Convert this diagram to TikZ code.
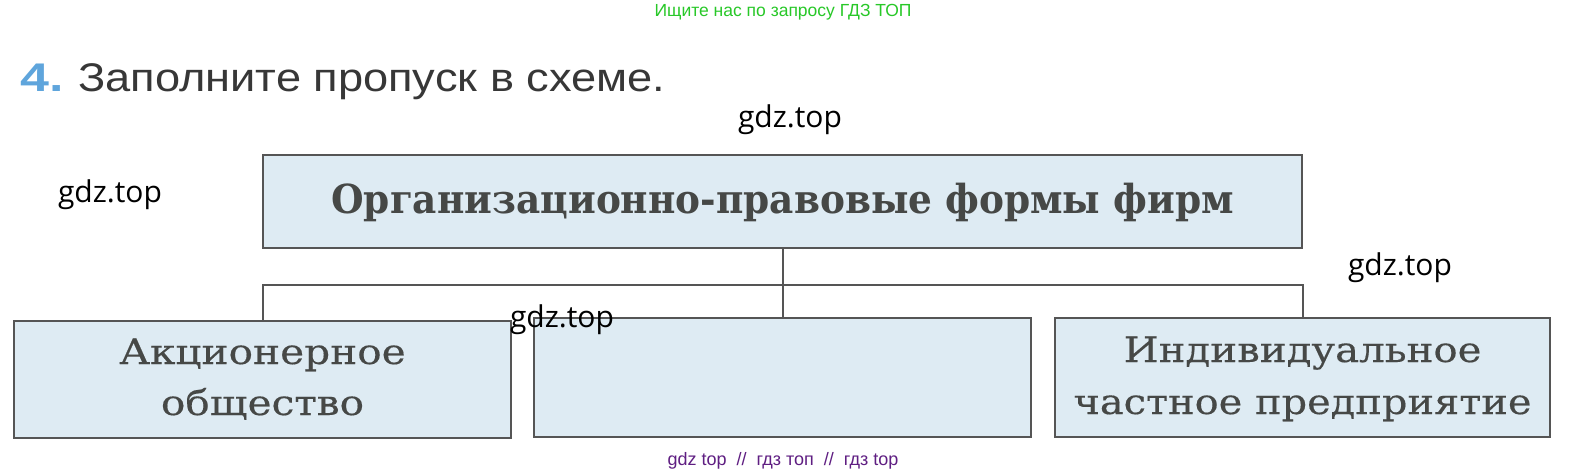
\documentclass[tikz,border=0pt]{standalone}
\usepackage{graphicx}
\usepackage{fontspec}
\setmainfont{DejaVu Serif}
\newfontfamily\medserif[FakeBold=0.3]{DejaVu Serif}
\newfontfamily\sansf{Liberation Sans}
\newfontfamily\wmf{Open Sans}
\usetikzlibrary{calc}
\newcommand\hsc[2]{\scalebox{#1}[1]{#2}}
\definecolor{boxfill}{RGB}{222,235,243}
\definecolor{boxline}{RGB}{85,85,85}
\definecolor{boxtext}{RGB}{70,72,70}
\definecolor{titletext}{RGB}{55,55,55}
\definecolor{numblue}{RGB}{95,165,220}
\definecolor{topgreen}{RGB}{40,200,40}
\definecolor{botpurple}{RGB}{95,30,130}
\tikzset{
  box/.style={draw=boxline, line width=2pt, fill=boxfill, rectangle, inner sep=0pt},
  lbl/.style={anchor=base, inner sep=0pt, text=boxtext, font=\medserif\fontsize{35}{40}\selectfont},
  conn/.style={draw=boxline, line width=2pt},
  wm/.style={font=\wmf\fontsize{30}{34}\selectfont, text=black, inner sep=0pt},
}
\begin{document}
\begin{tikzpicture}[x=1pt,y=-1pt]
\useasboundingbox[fill=white] (0,0) rectangle (1570,476);
\node[font=\sansf\fontsize{17.5}{20}\selectfont, text=topgreen, inner sep=0pt] (g) at (783,12) {Ищите нас по запросу ГДЗ ТОП};
\node[anchor=base west, inner sep=0pt, font=\sansf\bfseries\fontsize{40}{44}\selectfont, text=numblue] (num) at (20,92) {\hsc{1.3}{4.}};
\node[anchor=base west, inner sep=0pt, font=\sansf\fontsize{40}{44}\selectfont, text=titletext] (t) at (78,92) {\hsc{1.13}{Заполните пропуск в схеме.}};
\node[box, minimum width=1039pt, minimum height=93pt] (top) at (782.5,201.5) {};
\node[lbl, font=\bfseries\fontsize{40}{44}\selectfont] (toptxt) at (782.5,213) {\hsc{0.936}{Организационно-правовые формы фирм}};
\node[box, minimum width=497pt, minimum height=117pt] (l) at (262.5,379.5) {};
\node[lbl] (l1) at (262.5,364) {\hsc{1.16}{Акционерное}};
\node[lbl] (l2) at (262.5,415) {\hsc{1.16}{общество}};
\node[box, minimum width=497pt, minimum height=119pt] (m) at (782.5,377.5) {};
\node[box, minimum width=495pt, minimum height=119pt] (r) at (1302.5,377.5) {};
\node[lbl] (r1) at (1302.5,362) {\hsc{1.15}{Индивидуальное}};
\node[lbl] (r2) at (1302.5,414) {\hsc{1.14}{частное предприятие}};
\coordinate (j) at (782.5,285);
\draw[conn] (top.south) -- (m.north);
\draw[conn] (l.north) -- (l.north |- j) -- (r.north |- j) -- (r.north);
\node[wm] (w1) at (790,120) {gdz.top};
\node[wm] (w2) at (110,195) {gdz.top};
\node[wm] (w3) at (1400,268) {gdz.top};
\node[wm] (w4) at (562,320) {gdz.top};
\node[font=\sansf\fontsize{18}{20}\selectfont, text=botpurple, inner sep=0pt] (b) at (783,461) {gdz top \ // \ гдз топ \ // \ гдз top};
\end{tikzpicture}
\end{document}
